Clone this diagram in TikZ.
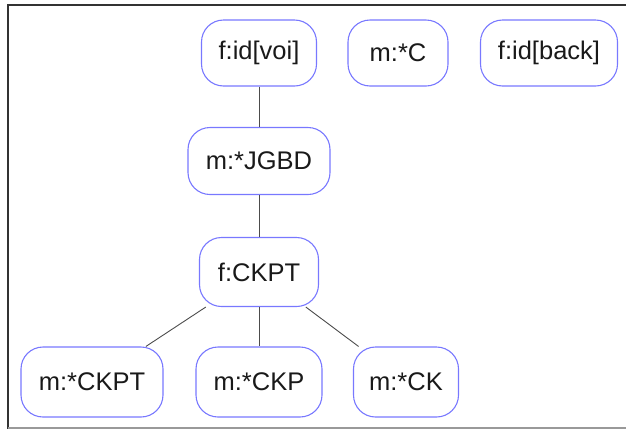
\documentclass[tikz,border=0pt]{standalone}
\usepackage{fontspec}
\setmainfont{Liberation Sans}
\definecolor{tagblue}{RGB}{120,120,255}
\tikzset{
	tag/.style={rectangle,rounded corners=22pt,draw=tagblue,line width=1.1pt,minimum height=66pt,inner xsep=12pt,font=\fontsize{25.5}{30}\selectfont,text=black!90},
	link/.style={draw=black!70,line width=0.9pt}
}
\begin{document}
\begin{tikzpicture}[x=1pt,y=-1pt]
		\useasboundingbox (0,0) rectangle (626,429);
		% frame
		\draw[black!80,line width=2pt] (627,5) -- (8,5) -- (8,429);
		\draw[black!40,line width=1.5pt] (8,428) -- (627,428);
		% top row
		\node[tag,minimum width=115pt](voi) at (259,53) {f:id[voi]};
		\node[tag,minimum width=100pt](c) at (398,53) {m:*C};
		\node[tag,minimum width=137pt](back) at (549,53) {f:id[back]};
		% chain
		\node[tag,minimum width=142pt,minimum height=67pt](jgbd) at (259,161) {m:*JGBD};
		\node[tag,minimum width=119pt,minimum height=69pt](ckpt) at (259,272) {f:CKPT};
		% leaves
		\node[tag,minimum width=142pt,minimum height=70pt](leafckpt) at (92,382) {m:*CKPT};
		\node[tag,minimum width=126pt,minimum height=70pt](leafckp) at (259,382) {m:*CKP};
		\node[tag,minimum width=105pt,minimum height=70pt](leafck) at (406,382) {m:*CK};
		\draw[link] (voi) -- (jgbd);
		\draw[link] (jgbd) -- (ckpt);
		\foreach \leaf in {leafckpt,leafckp,leafck}
			\draw[link] (ckpt) -- (\leaf);
	\end{tikzpicture}
\end{document}
